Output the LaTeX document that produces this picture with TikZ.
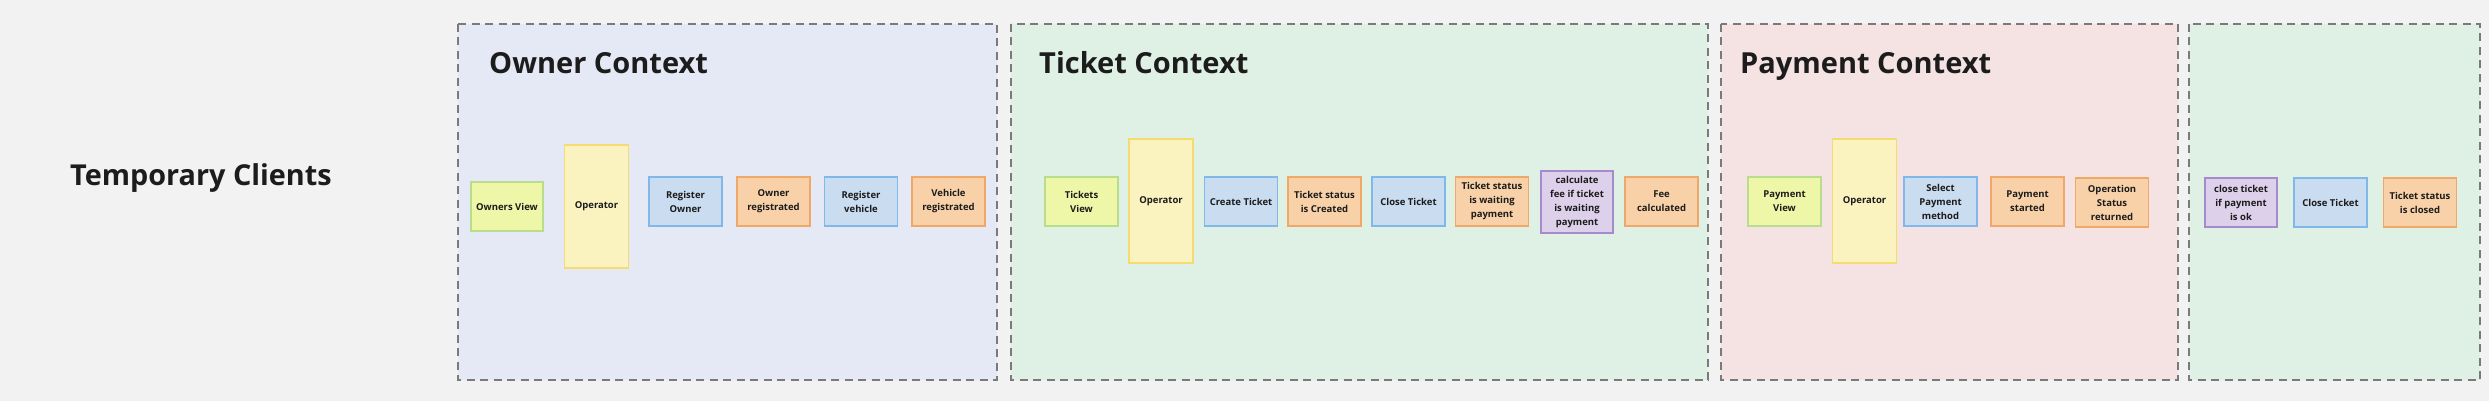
\documentclass[tikz,border=0pt]{standalone}
\usepackage{fontspec}
\setmainfont{Open Sans}
\definecolor{bg}{HTML}{F2F2F2}
\definecolor{txt}{HTML}{1C1C1C}
\definecolor{frame}{HTML}{7A7A7C}
\definecolor{ownerbg}{HTML}{E4E9F5}
\definecolor{ticketbg}{HTML}{DFF0E4}
\definecolor{paybg}{HTML}{F5E3E3}
\definecolor{gfill}{HTML}{EEF6A8}
\definecolor{gline}{HTML}{B9DD8C}
\definecolor{yfill}{HTML}{FAF3C0}
\definecolor{yline}{HTML}{F5DC72}
\definecolor{bfill}{HTML}{C9DCF0}
\definecolor{bline}{HTML}{80B8EA}
\definecolor{ofill}{HTML}{F8D1A8}
\definecolor{oline}{HTML}{F0A868}
\definecolor{pfill}{HTML}{DDD0EA}
\definecolor{pline}{HTML}{A68BCC}
\tikzset{
  ctx/.style={draw=frame, line width=2pt, dash pattern=on 8pt off 5.5pt},
  ctxtitle/.style={anchor=base west, inner sep=0pt, text=txt, font=\fontsize{29}{35}\selectfont\bfseries},
  card/.style={draw, line width=1.6pt, minimum width=73pt, minimum height=49pt, inner sep=0pt, align=center, text=txt, font=\fontsize{9.5}{14}\selectfont\bfseries},
  viewcard/.style={card, fill=gfill, draw=gline},
  actorcard/.style={card, fill=yfill, draw=yline, minimum width=64pt, minimum height=123pt},
  cmdcard/.style={card, fill=bfill, draw=bline},
  evtcard/.style={card, fill=ofill, draw=oline},
  polcard/.style={card, fill=pfill, draw=pline}
}
\begin{document}
\begin{tikzpicture}[x=1pt, y=-1pt]
\useasboundingbox (0,0) rectangle (2489,401);
\fill[bg] (0,0) rectangle (2489,401);

% context frames
\draw[ctx, fill=ownerbg] (458,24) rectangle (997,380);
\draw[ctx, fill=ticketbg] (1011,24) rectangle (1708,380);
\draw[ctx, fill=paybg] (1721,24) rectangle (2178,380);
\draw[ctx, fill=ticketbg] (2189,24) rectangle (2480,380);

\node[anchor=base west, inner sep=0pt, text=txt, font=\fontsize{28.8}{34}\selectfont\bfseries] (temp) at (70,185) {Temporary Clients};
\node[ctxtitle] (ownert) at (489,74) {Owner Context};
\node[ctxtitle] (tickett) at (1039,74) {Ticket Context};
\node[ctxtitle] (payt) at (1740,74) {Payment Context};

% Owner context
\node[viewcard, minimum width=72pt] (ov) at (507,206.5) {Owners View};
\node[actorcard] (op1) at (596.5,206.5) {Operator};
\node[cmdcard] (ro) at (685.5,201.5) {Register\\Owner};
\node[evtcard] (orr) at (773.5,201.5) {Owner\\registrated};
\node[cmdcard] (rv) at (861,201.5) {Register\\vehicle};
\node[evtcard] (vr) at (948.5,201.5) {Vehicle\\registrated};

% Ticket context
\node[viewcard] (tv) at (1081.5,201.5) {Tickets\\View};
\node[actorcard, minimum height=124pt] (op2) at (1161,201) {Operator};
\node[cmdcard] (ct) at (1241,201.5) {Create Ticket};
\node[evtcard] (tc) at (1324.5,201.5) {Ticket status\\is Created};
\node[cmdcard] (cl) at (1408.5,201.5) {Close Ticket};
\node[evtcard] (tw) at (1492,201.5) {Ticket status\\is waiting\\payment};
\node[polcard, minimum width=72pt, minimum height=62pt] (cf) at (1577,202) {calculate\\fee if ticket\\is waiting\\payment};
\node[evtcard] (fc) at (1661.5,201.5) {Fee\\calculated};

% Payment context
\node[viewcard] (pv) at (1784.5,201.5) {Payment\\View};
\node[actorcard, minimum height=124pt] (op3) at (1864.5,201) {Operator};
\node[cmdcard] (sp) at (1940.5,201.5) {Select\\Payment\\method};
\node[evtcard] (ps) at (2027.5,201.5) {Payment\\started};
\node[evtcard] (os) at (2112,202.5) {Operation\\Status\\returned};

% last context
\node[polcard, minimum width=72pt] (ck) at (2241,202.5) {close ticket\\if payment\\is ok};
\node[cmdcard] (cl2) at (2330.5,202.5) {Close Ticket};
\node[evtcard] (tcl) at (2420,202.5) {Ticket status\\is closed};
\end{tikzpicture}
\end{document}
